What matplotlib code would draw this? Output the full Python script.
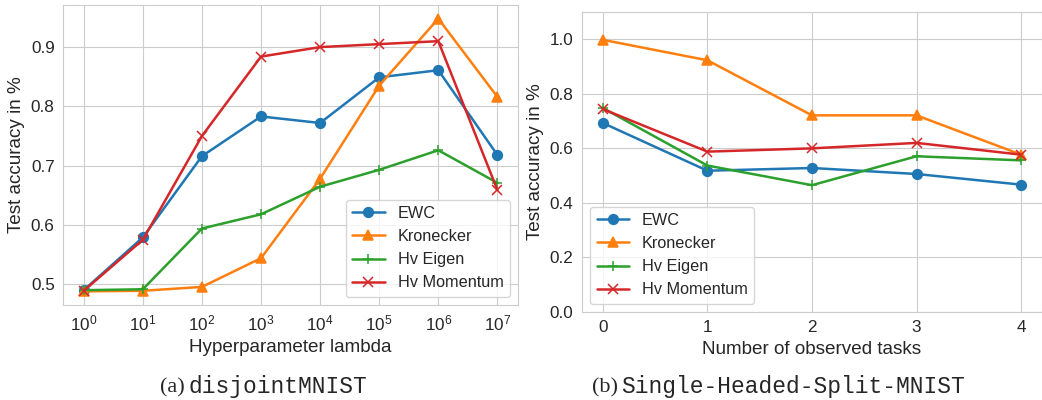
import matplotlib
matplotlib.use("Agg")
import matplotlib.pyplot as plt
import seaborn as sns

# left panel: disjointMNIST
lambdas = [1e0, 1e1, 1e2, 1e3, 1e4, 1e5, 1e6, 1e7]
ewc_a = [0.490, 0.579, 0.716, 0.783, 0.772, 0.849, 0.861, 0.718]
kron_a = [0.488, 0.489, 0.4955, 0.544, 0.678, 0.835, 0.948, 0.816]
eigen_a = [0.490, 0.4915, 0.594, 0.618, 0.6645, 0.693, 0.726, 0.671]
mom_a = [0.489, 0.575, 0.750, 0.884, 0.900, 0.905, 0.910, 0.659]

# right panel: Single-Headed-Split-MNIST
tasks = [0, 1, 2, 3, 4]
ewc_b = [0.693, 0.518, 0.528, 0.506, 0.467]
kron_b = [0.998, 0.923, 0.721, 0.721, 0.577]
eigen_b = [0.748, 0.537, 0.465, 0.571, 0.556]
mom_b = [0.744, 0.588, 0.600, 0.620, 0.577]

labels = ["EWC", "Kronecker", "Hv Eigen", "Hv Momentum"]
markers = ["o", "^", "+", "x"]
msizes = [7, 7.5, 7, 6.5]
colors = ["#1f77b4", "#ff7f0e", "#2ca02c", "#d62728"]

sns.set_style("whitegrid")
plt.rcParams['font.family'] = ['Liberation Sans', 'DejaVu Sans']
plt.rcParams['axes.edgecolor'] = '0.8'
plt.rcParams['grid.color'] = '0.8'

fig = plt.figure(figsize=(10.42, 4.0), dpi=100)
ax1 = fig.add_axes([0.0605, 0.2375, 0.4367, 0.75])
ax2 = fig.add_axes([0.5585, 0.22, 0.4415, 0.75])

def draw(ax, x, series):
    for ys, lab, m, ms, c in zip(series, labels, markers, msizes, colors):
        ax.plot(x, ys, marker=m, color=c, label=lab, lw=1.8, ms=ms, mew=1.1)
    ax.tick_params(labelsize=12.3, colors='0.15', length=0, pad=6)
    for s in ax.spines.values():
        s.set_color('0.8')

draw(ax1, lambdas, [ewc_a, kron_a, eigen_a, mom_a])
ax1.set_xscale("log")
ax1.minorticks_off()
ax1.set_xticks(lambdas)
ax1.set_yticks([0.5, 0.6, 0.7, 0.8, 0.9])
ax1.set_xlabel("Hyperparameter lambda", fontsize=13.6, color='0.15', labelpad=4)
ax1.set_ylabel("Test accuracy in %", fontsize=13.6, color='0.15')
ax1.legend(loc="lower right", fontsize=11.7, framealpha=0.8)

draw(ax2, tasks, [ewc_b, kron_b, eigen_b, mom_b])
ax2.set_ylim(0, 1.1)
ax2.set_xticks(tasks)
ax2.set_yticks([0.0, 0.2, 0.4, 0.6, 0.8, 1.0])
ax2.set_xlabel("Number of observed tasks", fontsize=13.6, color='0.15', labelpad=4)
ax2.set_ylabel("Test accuracy in %", fontsize=13.6, color='0.15')
ax2.legend(loc="lower left", fontsize=11.7, framealpha=0.8)

# captions
fig.text(0.1775, 0.018, "(a)", family="Liberation Serif", fontsize=16, ha="right", va="baseline")
fig.text(0.1805, 0.018, "disjointMNIST", family="Liberation Mono", fontsize=16.5, ha="left", va="baseline")
fig.text(0.5935, 0.018, "(b)", family="Liberation Serif", fontsize=16, ha="right", va="baseline")
fig.text(0.5965, 0.018, "Single-Headed-Split-MNIST", family="Liberation Mono", fontsize=16.5, ha="left", va="baseline")

fig.savefig("out.png", dpi=100)
